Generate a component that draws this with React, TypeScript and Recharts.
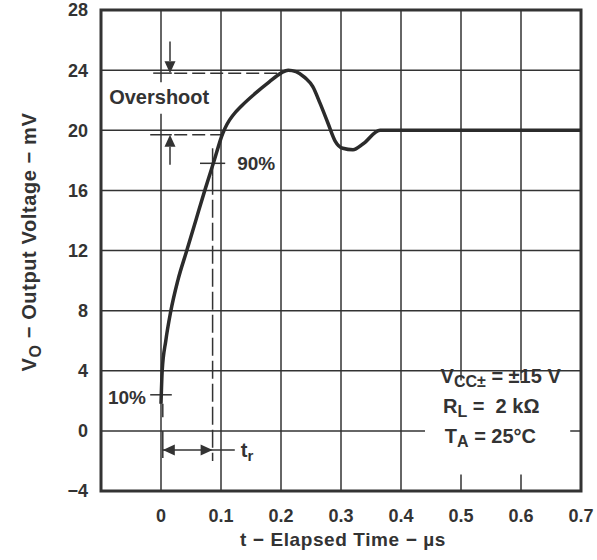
import {
  CartesianGrid,
  Line,
  LineChart,
  ReferenceArea,
  ReferenceDot,
  ReferenceLine,
  XAxis,
  YAxis,
} from "recharts";

// output voltage step response
const TIME_US = [
  0, 0.002, 0.008, 0.016, 0.028, 0.043, 0.058, 0.073, 0.088, 0.103, 0.11, 0.12, 0.135, 0.157, 0.18,
  0.2, 0.212, 0.225, 0.24, 0.253, 0.265, 0.278, 0.29, 0.303, 0.32, 0.337, 0.365, 0.7,
];
const VOUT_MV = [
  1.8, 4.0, 6.0, 7.9, 10.0, 12.0, 14.0, 16.0, 17.9, 19.8, 20.4, 21.0, 21.65, 22.45, 23.2,
  23.8, 24.0, 23.9, 23.5, 22.9, 21.8, 20.5, 19.3, 18.8, 18.7, 19.1, 20.0, 20.0,
];

const X_TICKS = [-0.1, 0, 0.1, 0.2, 0.3, 0.4, 0.5, 0.6, 0.7];
const Y_TICKS = [-4, 0, 4, 8, 12, 16, 20, 24, 28];

// annotation geometry in data units (t in µs, V in mV)
const SOLID_SEGMENTS = [
  [-0.013, 23.8, 0.018, 23.8],
  [0.015, 25.9, 0.015, 24.6],
  [-0.018, 19.7, 0.018, 19.7],
  [0.015, 17.7, 0.015, 18.9],
  [0.065, 17.8, 0.107, 17.8],
  [0.086, 18.8, 0.086, 16.9],
  [-0.018, 2.4, 0.018, 2.4],
  [0.003, 1.8, 0.003, 0.9],
  [0.003, 0.0, 0.003, -1.8],
  [0.003, -1.27, 0.123, -1.27],
];
const DASHED_SEGMENTS = [
  [0.022, 23.8, 0.2, 23.8],
  [0.022, 19.7, 0.103, 19.7],
];
const LONG_DASHED_SEGMENTS = [[0.086, 16.9, 0.086, -2.0]];

const ARROWS = [
  { t: 0.015, v: 23.8, dir: "down" },
  { t: 0.015, v: 19.7, dir: "up" },
  { t: 0.003, v: -1.27, dir: "left" },
  { t: 0.086, v: -1.27, dir: "right" },
];

const WHITE_AREAS = [
  [-0.09, 0.085, 21.1, 23.2],
  [0.44, 0.682, -2.9, 3.35],
];

const INK = "#333333";
const FONT = '"Liberation Sans", Arial, Helvetica, sans-serif';

const data = TIME_US.map((t, i) => ({ t, v: VOUT_MV[i] }));

const arrowShape = (dir: string) => (props: any) => {
  const { cx, cy } = props;
  const L = 12;
  const W = 5.5;
  let pts = "";
  if (dir === "down") pts = `${cx},${cy} ${cx - W},${cy - L} ${cx + W},${cy - L}`;
  if (dir === "up") pts = `${cx},${cy} ${cx - W},${cy + L} ${cx + W},${cy + L}`;
  if (dir === "left") pts = `${cx},${cy} ${cx + L},${cy - W} ${cx + L},${cy + W}`;
  if (dir === "right") pts = `${cx},${cy} ${cx - L},${cy - W} ${cx - L},${cy + W}`;
  return <polygon points={pts} fill={INK} />;
};

const textShape = (content: any, anchor: string, size = 19) => (props: any) => (
  <text
    x={props.cx}
    y={props.cy}
    textAnchor={anchor}
    dominantBaseline="central"
    fontSize={size}
    fontWeight={700}
    fill={INK}
    fontFamily={FONT}
  >
    {content}
  </text>
);

const baselineText = (content: any) => (props: any) => (
  <text x={props.cx} y={props.cy} textAnchor="start" fontSize={20} fontWeight={700} fill={INK} fontFamily={FONT}>
    {content}
  </text>
);

export default function App() {
  return (
    <div
      style={{
        position: "absolute",
        left: 0,
        top: 0,
        width: 597,
        height: 560,
        background: "#fff",
        fontFamily: FONT,
      }}
    >
      <LineChart width={597} height={560} data={data} margin={{ top: 10, right: 16, bottom: 0, left: 0 }}>
        <CartesianGrid stroke={INK} strokeWidth={1.5} />
        <XAxis
          dataKey="t"
          type="number"
          domain={[-0.1, 0.7]}
          ticks={X_TICKS}
          allowDataOverflow
          height={69}
          axisLine={false}
          tickLine={false}
          tickSize={0}
          tickMargin={18}
          interval={0}
          tick={{ fontSize: 18, fontWeight: 700, fill: INK }}
          tickFormatter={(v: number) => (v < 0 ? "" : v === 0 ? "0" : v.toFixed(1))}
          label={{
            content: () => (
              <text x={343} y={546} textAnchor="middle" fontSize={19} fontWeight={700} fill={INK} letterSpacing={0.6}>
                t − Elapsed Time − µs
              </text>
            ),
          }}
        />
        <YAxis
          type="number"
          domain={[-4, 28]}
          ticks={Y_TICKS}
          allowDataOverflow
          width={101}
          axisLine={false}
          tickLine={false}
          tickSize={0}
          tickMargin={13}
          interval={0}
          tick={{ fontSize: 18, fontWeight: 700, fill: INK }}
          tickFormatter={(v: number) => (v < 0 ? `−${Math.abs(v)}` : String(v))}
          label={{
            content: () => (
              <text
                x={36}
                y={242}
                transform="rotate(-90 36 242)"
                textAnchor="middle"
                fontSize={20}
                fontWeight={700}
                fill={INK}
                letterSpacing={0.6}
              >
                <tspan>V</tspan>
                <tspan fontSize={16} dy={5}>O</tspan>
                <tspan dy={-5}> − Output Voltage − mV</tspan>
              </text>
            ),
          }}
        />

        {WHITE_AREAS.map(([x1, x2, y1, y2], i) => (
          <ReferenceArea key={`w${i}`} x1={x1} x2={x2} y1={y1} y2={y2} fill="#fff" fillOpacity={1} stroke="none" />
        ))}

        {SOLID_SEGMENTS.map(([x1, y1, x2, y2], i) => (
          <ReferenceLine
            key={`s${i}`}
            segment={[
              { x: x1, y: y1 },
              { x: x2, y: y2 },
            ]}
            stroke={INK}
            strokeWidth={1.5}
          />
        ))}
        {DASHED_SEGMENTS.map(([x1, y1, x2, y2], i) => (
          <ReferenceLine
            key={`d${i}`}
            segment={[
              { x: x1, y: y1 },
              { x: x2, y: y2 },
            ]}
            stroke={INK}
            strokeWidth={1.5}
            strokeDasharray="13 5"
          />
        ))}
        {LONG_DASHED_SEGMENTS.map(([x1, y1, x2, y2], i) => (
          <ReferenceLine
            key={`l${i}`}
            segment={[
              { x: x1, y: y1 },
              { x: x2, y: y2 },
            ]}
            stroke={INK}
            strokeWidth={1.5}
            strokeDasharray="18 5"
          />
        ))}
        {ARROWS.map((a, i) => (
          <ReferenceDot key={`a${i}`} x={a.t} y={a.v} r={0} shape={arrowShape(a.dir)} />
        ))}

        <ReferenceDot x={-0.003} y={22.2} r={0} shape={textShape("Overshoot", "middle", 20)} />
        <ReferenceDot x={0.127} y={17.8} r={0} shape={textShape("90%", "start")} />
        <ReferenceDot x={-0.025} y={2.2} r={0} shape={textShape("10%", "end")} />
        <ReferenceDot
          x={0.133}
          y={-1.27}
          r={0}
          shape={textShape(
            <>
              <tspan>t</tspan>
              <tspan fontSize={15} dy={5}>r</tspan>
            </>,
            "start",
            20,
          )}
        />
        <ReferenceDot
          x={0.466}
          y={3.2}
          r={0}
          shape={baselineText(
            <>
              <tspan>V</tspan>
              <tspan fontSize={16} dy={4}>CC±</tspan>
              <tspan dy={-4}> = ±15 V</tspan>
            </>,
          )}
        />
        <ReferenceDot
          x={0.47}
          y={1.2}
          r={0}
          shape={baselineText(
            <>
              <tspan>R</tspan>
              <tspan fontSize={16} dy={4}>L</tspan>
              <tspan dy={-4}>{" = \u00a02 kΩ"}</tspan>
            </>,
          )}
        />
        <ReferenceDot
          x={0.473}
          y={-0.78}
          r={0}
          shape={baselineText(
            <>
              <tspan>T</tspan>
              <tspan fontSize={16} dy={4}>A</tspan>
              <tspan dy={-4}> = 25°C</tspan>
            </>,
          )}
        />

        <ReferenceArea x1={-0.1} x2={0.7} y1={-4} y2={28} fill="none" stroke={INK} strokeWidth={3} />

        <Line
          type="monotone"
          dataKey="v"
          stroke="#2b2b2b"
          strokeWidth={3.5}
          dot={false}
          activeDot={false}
          isAnimationActive={false}
        />
      </LineChart>
    </div>
  );
}
